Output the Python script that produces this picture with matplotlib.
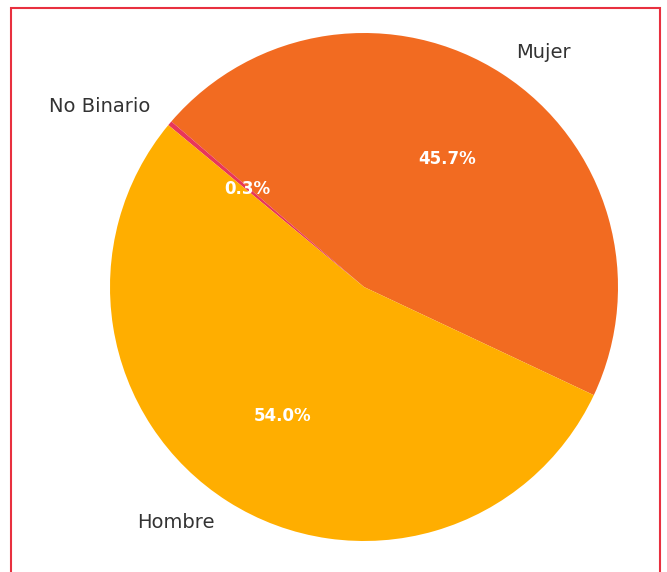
import matplotlib
matplotlib.use("Agg")
import matplotlib.pyplot as plt
from matplotlib.patches import Rectangle

categories = ["Mujer", "No Binario", "Hombre"]
shares = [45.7, 0.3, 54.0]
colors = ["#F26B21", "#E8365A", "#FFAE00"]

plt.rcParams["font.family"] = ["DejaVu Sans"]

W, H, DPI = 667, 572, 100
fig = plt.figure(figsize=(W / DPI, H / DPI), dpi=DPI)

# pie centred at (364, 287) px with radius 254 px
cx, cy, r = 364, 287, 254
lim = 1.2
side = 2 * lim * r
ax = fig.add_axes([(cx - lim * r) / W, ((H - cy) - lim * r) / H, side / W, side / H])

wedges, texts, autotexts = ax.pie(
    shares,
    labels=categories,
    colors=colors,
    autopct="%1.1f%%",
    startangle=-25.2,
    counterclock=True,
    labeldistance=1.1,
    pctdistance=0.6,
    textprops={"fontsize": 14, "color": "#333333"},
)
for t in autotexts:
    t.set_color("white")
    t.set_fontweight("bold")
    t.set_fontsize(12)

ax.set_xlim(-lim, lim)
ax.set_ylim(-lim, lim)
ax.set_aspect("equal")
ax.axis("off")

# red frame around the figure
fig.patches.append(Rectangle((11 / W, -0.05), (660 - 11) / W, 1.05 - 8 / H,
                             transform=fig.transFigure, fill=False,
                             edgecolor="#E8303F", linewidth=1.5))

fig.savefig("out.png", dpi=DPI)
